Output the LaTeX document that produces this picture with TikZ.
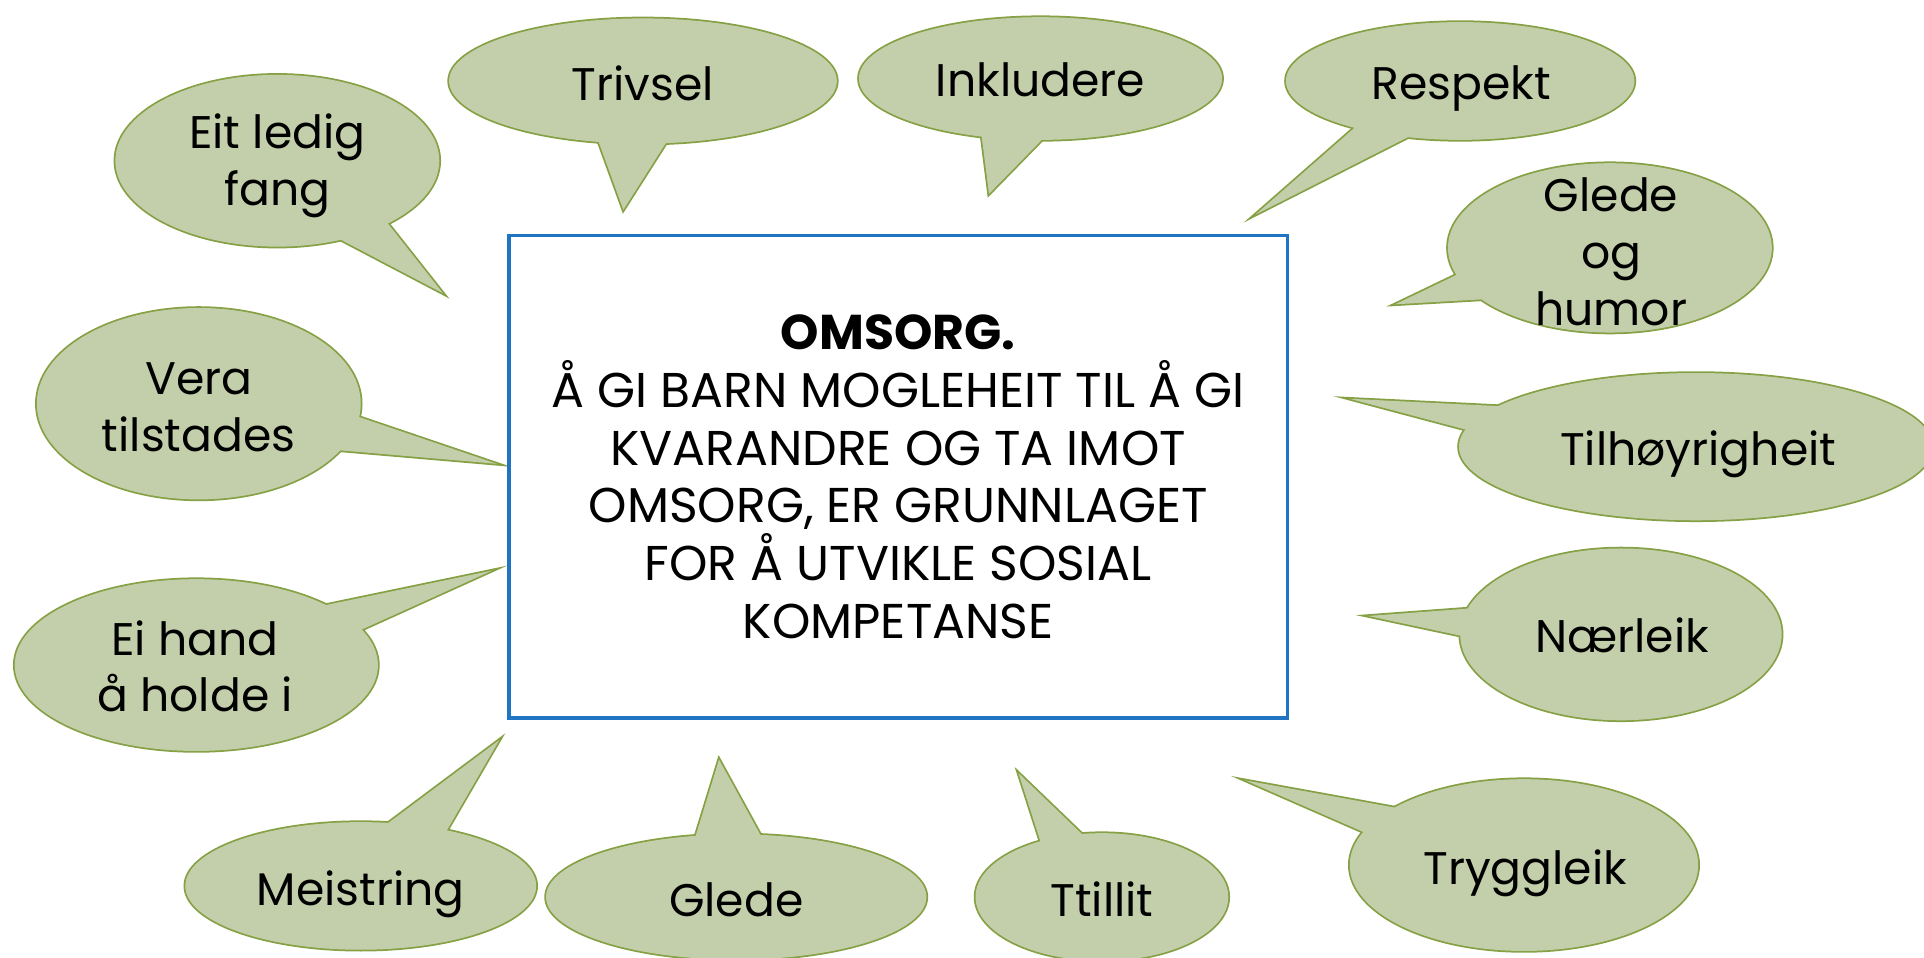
\documentclass[tikz,border=0pt]{standalone}
\usepackage{fontspec}
\setmainfont{Poppins}
\definecolor{bubfill}{HTML}{C3CFAA}
\definecolor{bubedge}{HTML}{86A044}
\definecolor{boxblue}{HTML}{1F74C4}
\tikzset{
  bubtext/.style={align=center, font=\fontsize{13}{16.2}\selectfont, inner sep=0pt, text=black},
  bubline/.style={draw=bubedge, line width=1pt, line join=miter},
  mainbox/.style={draw=boxblue, line width=1pt, fill=white, align=center,
    font=\fontsize{13.9}{16.4}\selectfont, minimum width=7.78cm, minimum height=4.82cm},
}
% name, centre, rx, ry, tip, base1, base2, text placement, text
\newcommand\bubble[9]{%
  \coordinate (#1-c) at #2;
  \coordinate (#1-tip) at #5;
  \coordinate (#1-b1) at #6;
  \coordinate (#1-b2) at #7;
  \draw[bubline] (#1-tip) -- (#1-b1) -- (#1-c) -- (#1-b2) -- cycle;
  \draw[bubline] (#1-c) ellipse [x radius=#3, y radius=#4];
  \fill[bubfill] (#1-tip) -- (#1-b1) -- (#1-c) -- (#1-b2) -- cycle;
  \fill[bubfill] (#1-c) ellipse [x radius=#3, y radius=#4];
  \node[bubtext,#8] (#1) {#9};
}
\begin{document}
\begin{tikzpicture}[x=0.01227cm, y=-0.01227cm]
\useasboundingbox (0,0) rectangle (1568,780);
\fill[white] (0,0) rectangle (1568,780);

\bubble{eit}{(226,131)}{132}{70}{(361,239)}{(316,182)}{(279,196)}{anchor=center,at={(226,135)}}{Eit ledig\\fang}
\bubble{trivsel}{(524,66)}{158}{51}{(508,171)}{(488,116)}{(543,116)}{anchor=base,at={(524,82)}}{Trivsel}
\bubble{inkl}{(848,64)}{148}{50}{(806,158)}{(800,111)}{(850,113)}{anchor=base,at={(848,79)}}{Inkludere}
\bubble{respekt}{(1190,66)}{142}{48}{(1023,175)}{(1104,104)}{(1147,112)}{anchor=base,at={(1191,81)}}{Respekt}
\bubble{humor}{(1312,202)}{132}{69}{(1137,248)}{(1187,224)}{(1207,244)}{anchor=center,at={(1313,205)}}{Glede\\og\\humor}
\bubble{tilh}{(1382,364)}{193}{60}{(1100,325)}{(1222,331)}{(1194,350)}{anchor=base,at={(1384,379)}}{Tilhøyrigheit}
\bubble{naer}{(1321,517)}{131}{70}{(1115,502)}{(1196,496)}{(1190,518)}{anchor=base,at={(1322,532)}}{Nærleik}
\bubble{trygg}{(1242,705)}{142}{70}{(1015,636)}{(1136,658)}{(1111,678)}{anchor=base,at={(1243,721)}}{Tryggleik}
\bubble{ttillit}{(898,731)}{103}{52}{(830,630)}{(848,686)}{(882,680)}{anchor=base,at={(898,747)}}{Ttillit}
\bubble{glede}{(600,731)}{155}{51}{(586,619)}{(567,681)}{(620,681)}{anchor=base,at={(600,747)}}{Glede}
\bubble{meistring}{(294,722)}{143}{52}{(407,603)}{(316,671)}{(364,677)}{anchor=base,at={(294,738)}}{Meistring}
\bubble{eihand}{(160,542)}{148}{70}{(401,465)}{(266,493)}{(295,513)}{anchor=center,at={(159,543)}}{Ei hand\\å holde i}
\bubble{vera}{(162,329)}{132}{78}{(405,378)}{(293,340)}{(277,367)}{anchor=center,at={(162,332)}}{Vera\\tilstades}

\node[mainbox] (main) at (732,388.5) {\textbf{OMSORG.}\\Å GI BARN MOGLEHEIT TIL Å GI\\KVARANDRE OG TA IMOT\\OMSORG, ER GRUNNLAGET\\FOR Å UTVIKLE SOSIAL\\KOMPETANSE};
\end{tikzpicture}
\end{document}
